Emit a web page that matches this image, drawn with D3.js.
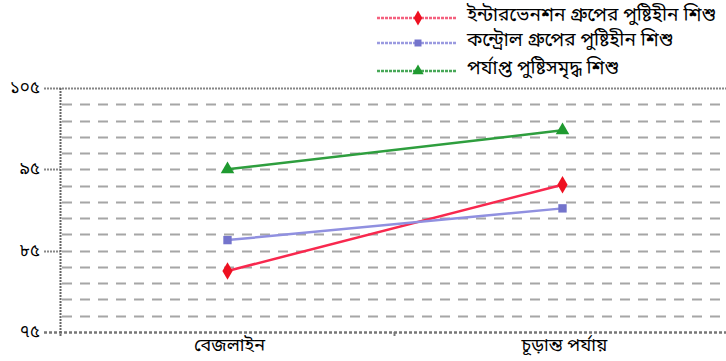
<!DOCTYPE html>
<html>
<head>
<meta charset="utf-8">
<script src="https://cdn.jsdelivr.net/npm/d3@7/dist/d3.min.js"></script>
<style>
  html, body { margin: 0; padding: 0; background: #fff; }
  svg { display: block; }
  text { font-family: "Noto Sans Bengali", "Lohit Bengali", "Noto Serif Bengali", "FreeSerif", "Noto Sans", sans-serif; fill: #000; }
</style>
</head>
<body>
<svg id="chart" width="726" height="361"></svg>
<script>
// Stages along the x axis
const categories = ["বেজলাইন", "চূড়ান্ত পর্যায়"];

// Series names (legend order)
const seriesNames = [
  "ইন্টারভেনশন গ্রুপের পুষ্টিহীন শিশু",
  "কন্ট্রোল গ্রুপের পুষ্টিহীন শিশু",
  "পর্যাপ্ত পুষ্টিসমৃদ্ধ শিশু"
];

// Values per series, one per stage
const interventionValues = [82.5, 93.1];
const controlValues = [86.3, 90.2];
const wellNourishedValues = [95.0, 99.8];

// Y axis labelled ticks
const yTickValues = [75, 85, 95, 105];
const yTickLabels = ["৭৫", "৮৫", "৯৫", "১০৫"];

const seriesStyles = [
  { line: "#f8284e", legendLine: "#f4607e", marker: "#ee1020", shape: d3.symbolDiamond, size: 90 },
  { line: "#9090e0", legendLine: "#9a9ae0", marker: "#7474cc", shape: d3.symbolSquare, size: 70 },
  { line: "#2e9e3e", legendLine: "#48a858", marker: "#1f9a30", shape: d3.symbolTriangle, size: 80 }
];

const series = [interventionValues, controlValues, wellNourishedValues].map((vals, i) => ({
  name: seriesNames[i],
  values: vals,
  style: seriesStyles[i]
}));

const svg = d3.select("#chart");
const plotLeft = 60, plotRight = 730, plotTop = 88, plotBottom = 332;

const x = d3.scaleBand().domain(categories).range([plotLeft, plotRight]);
const y = d3.scaleLinear().domain([75, 105]).range([plotBottom, plotTop]);

// Minor dashed gridlines every 2 units
const gridValues = d3.range(77, 105, 2);
svg.append("g")
  .selectAll("line")
  .data(gridValues)
  .join("line")
  .attr("x1", plotLeft + 2)
  .attr("x2", 726)
  .attr("y1", d => Math.round(y(d)) + 0.5)
  .attr("y2", d => Math.round(y(d)) + 0.5)
  .attr("stroke", "#a6a6a6")
  .attr("stroke-width", 2)
  .attr("stroke-dasharray", "10,8");

// Top boundary at 105
svg.append("line")
  .attr("x1", 44).attr("x2", 726)
  .attr("y1", Math.round(y(105)) + 0.5).attr("y2", Math.round(y(105)) + 0.5)
  .attr("stroke", "#858585").attr("stroke-width", 2)
  .attr("stroke-dasharray", "2,1");

// Bottom axis line
svg.append("line")
  .attr("x1", 44).attr("x2", 726)
  .attr("y1", Math.round(y(75)) + 0.5).attr("y2", Math.round(y(75)) + 0.5)
  .attr("stroke", "#777").attr("stroke-width", 2.5)
  .attr("stroke-dasharray", "3,2");

// Vertical axis line
svg.append("line")
  .attr("x1", plotLeft + 0.5).attr("x2", plotLeft + 0.5)
  .attr("y1", y(105)).attr("y2", y(75) + 4)
  .attr("stroke", "#666").attr("stroke-width", 2)
  .attr("stroke-dasharray", "2,1");

// Left tick marks on the labelled values
svg.append("g")
  .selectAll("line")
  .data([85, 95])
  .join("line")
  .attr("x1", 44).attr("x2", plotLeft)
  .attr("y1", d => Math.round(y(d)) + 0.5)
  .attr("y2", d => Math.round(y(d)) + 0.5)
  .attr("stroke", "#888").attr("stroke-width", 2)
  .attr("stroke-dasharray", "2,1");

// Tick between the two categories on the x axis
svg.append("line")
  .attr("x1", x(categories[1]) - 0.5).attr("x2", x(categories[1]) - 0.5)
  .attr("y1", y(75)).attr("y2", y(75) + 4)
  .attr("stroke", "#777").attr("stroke-width", 2);

// Y tick labels
svg.append("g")
  .selectAll("text")
  .data(yTickValues)
  .join("text")
  .attr("x", 40)
  .attr("y", d => y(d) + 5)
  .attr("text-anchor", "end")
  .attr("font-size", 17)
  .text((d, i) => yTickLabels[i]);

// X category labels
svg.append("g")
  .selectAll("text")
  .data(categories)
  .join("text")
  .attr("x", d => x(d) + x.bandwidth() / 2 + 2)
  .attr("y", 351)
  .attr("text-anchor", "middle")
  .attr("font-size", 18)
  .text(d => d);

// Series lines and markers
const cx = d => x(d) + x.bandwidth() / 2;
const lineGen = d3.line().x(d => cx(d.cat)).y(d => y(d.v));

series.forEach(s => {
  const pts = s.values.map((v, i) => ({ cat: categories[i], v }));
  svg.append("path")
    .datum(pts)
    .attr("d", lineGen)
    .attr("fill", "none")
    .attr("stroke", s.style.line)
    .attr("stroke-width", 2.5);
  svg.append("g")
    .selectAll("path")
    .data(pts)
    .join("path")
    .attr("transform", d => `translate(${cx(d.cat)},${y(d.v)})`)
    .attr("d", d3.symbol().type(s.style.shape).size(s.style.size))
    .attr("fill", s.style.marker);
});

// Legend
const legend = svg.append("g");
const legendRows = [18, 43, 71];
series.forEach((s, i) => {
  const ly = legendRows[i];
  legend.append("line")
    .attr("x1", 377).attr("x2", 457)
    .attr("y1", ly).attr("y2", ly)
    .attr("stroke", s.style.legendLine).attr("stroke-width", 2.5)
    .attr("stroke-dasharray", "3,1");
  legend.append("path")
    .attr("transform", `translate(418,${ly})`)
    .attr("d", d3.symbol().type(s.style.shape).size(s.style.size * 0.7))
    .attr("fill", s.style.marker);
  legend.append("text")
    .attr("x", 467)
    .attr("y", ly + 3)
    .attr("font-size", 19)
    .text(s.name);
});
</script>
</body>
</html>
